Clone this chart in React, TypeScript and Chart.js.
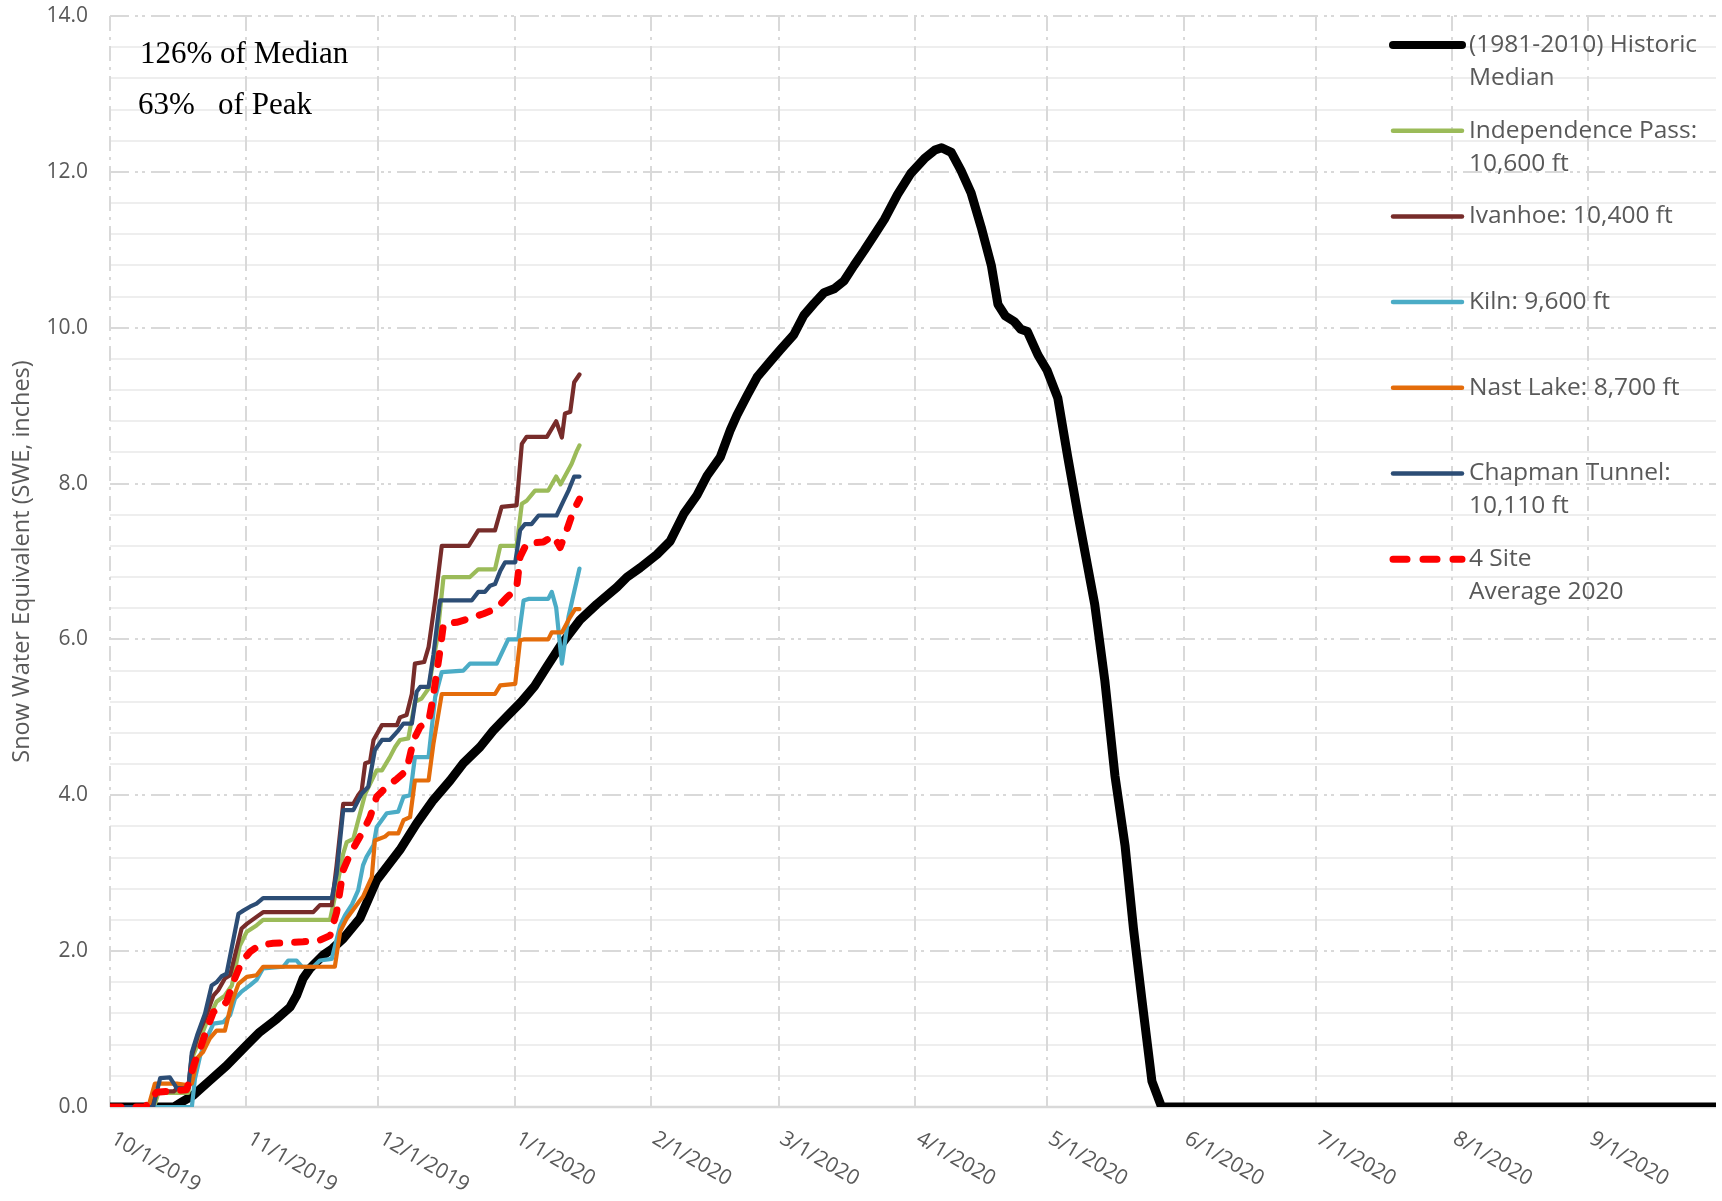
import { useEffect, useRef } from 'react';
import { Chart, registerables } from 'chart.js';

Chart.register(...registerables);

// Day index counted from 10/1/2019
const monthTickDays = [0, 31, 61, 92, 123, 152, 183, 213, 244, 274, 305, 336];
const monthTickLabels = ['10/1/2019', '11/1/2019', '12/1/2019', '1/1/2020', '2/1/2020', '3/1/2020', '4/1/2020', '5/1/2020', '6/1/2020', '7/1/2020', '8/1/2020', '9/1/2020'];

const historicMedian: number[][] = [
  [0, 0], [14.5, 0], [16.5, 0.07], [18.9, 0.15], [22.7, 0.34], [26.5, 0.53], [31, 0.79], [34, 0.96], [37.9, 1.13], [40.9, 1.28],
  [42.4, 1.43], [43.9, 1.65], [45.5, 1.78], [48.5, 1.95], [50.5, 2.03], [53, 2.16], [56.8, 2.42], [60.6, 2.91], [65.9, 3.3], [69.7, 3.64],
  [73.5, 3.94], [77.3, 4.19], [80.3, 4.41], [84.1, 4.62], [87.1, 4.83], [90, 5.0], [93.5, 5.2], [96.5, 5.4], [99.3, 5.65], [102.5, 5.93],
  [106.8, 6.25], [110.6, 6.45], [115.2, 6.67], [117.5, 6.8], [120.5, 6.92], [124.3, 7.09], [127.3, 7.26], [130.4, 7.61], [133.4, 7.85], [135.7, 8.1],
  [138.7, 8.34], [141, 8.69], [142.5, 8.88], [144.8, 9.13], [147.1, 9.37], [150.1, 9.57], [152.4, 9.72], [155.4, 9.91], [157.7, 10.16], [160, 10.31],
  [162.3, 10.45], [164.6, 10.5], [166.8, 10.6], [169.1, 10.8], [171.4, 10.99], [173.7, 11.19], [176, 11.39], [179, 11.71], [182, 11.98], [185.1, 12.17],
  [187.5, 12.28], [189, 12.31], [191.2, 12.25], [193.4, 12.02], [195.7, 11.73], [198, 11.29], [200.3, 10.8], [201.8, 10.3], [203.5, 10.15], [205.5, 10.08],
  [207, 9.98], [208.5, 9.95], [210.9, 9.65], [213, 9.45], [215.4, 9.1], [217.7, 8.33], [220, 7.6], [223.8, 6.45], [226.1, 5.47], [228.4, 4.25],
  [230.7, 3.35], [232.6, 2.29], [234.5, 1.39], [236.8, 0.33], [239, 0], [365, 0],
];

const independencePass: number[][] = [
  [0, 0], [10, 0], [11, 0.18], [17.8, 0.18], [18.9, 0.66], [20.5, 0.88], [22, 1.09], [24.2, 1.35], [26.1, 1.43], [27.7, 1.56],
  [29.5, 2.07], [31.1, 2.25], [33.3, 2.33], [34.8, 2.4], [50, 2.4], [51.5, 2.8], [53, 3.25], [53.8, 3.4], [55.3, 3.44], [58, 4.02],
  [60.6, 4.32], [61.8, 4.32], [63.6, 4.49], [64.8, 4.62], [65.9, 4.71], [67.8, 4.73], [69.3, 5.2], [70.8, 5.24], [72.4, 5.37], [74.3, 5.99],
  [75.8, 6.8], [81.8, 6.8], [83.7, 6.9], [87.5, 6.9], [88.7, 7.2], [92.4, 7.2], [93.6, 7.74], [94.7, 7.78], [96.6, 7.91], [99.6, 7.91],
  [101.4, 8.09], [102.4, 7.99], [104.9, 8.25], [106.1, 8.42], [106.7, 8.49],
];

const ivanhoe: number[][] = [
  [0, 0], [9, 0], [10.5, 0.2], [14.5, 0.2], [15.5, 0.25], [17.8, 0.25], [18.6, 0.66], [20, 0.92], [21.6, 1.13], [23.5, 1.43],
  [24.6, 1.5], [26.1, 1.65], [27.3, 1.69], [29.9, 2.29], [31.1, 2.35], [33.3, 2.44], [34.8, 2.5], [46.2, 2.5], [47.7, 2.59], [50.4, 2.59],
  [51.5, 3.1], [53, 3.89], [55.3, 3.89], [56.4, 4.0], [57.2, 4.06], [58, 4.41], [59.1, 4.43], [59.9, 4.71], [61.8, 4.9], [65.2, 4.9],
  [65.9, 5.0], [67.4, 5.03], [68.6, 5.3], [69.3, 5.69], [71.4, 5.71], [72.4, 5.9], [73.9, 6.5], [75.4, 7.2], [81.5, 7.2], [83.7, 7.4],
  [87.5, 7.4], [89, 7.7], [92.4, 7.72], [93.6, 8.51], [94.7, 8.6], [99.3, 8.6], [101.4, 8.8], [102.7, 8.59], [103.4, 8.9], [104.6, 8.92],
  [105.5, 9.3], [106.7, 9.4],
];

const kiln: number[][] = [
  [0, 0], [18.6, 0], [19.3, 0.36], [20.5, 0.66], [22.3, 0.92], [23.5, 1.07], [25.8, 1.09], [27.3, 1.18], [28.4, 1.39], [29.9, 1.48],
  [31.8, 1.56], [33.3, 1.63], [34.8, 1.78], [39.4, 1.8], [40.5, 1.88], [42.4, 1.88], [43.6, 1.8], [46.2, 1.8], [47.7, 1.88], [50.4, 1.9],
  [52.3, 2.33], [53.4, 2.46], [55, 2.6], [56.4, 2.78], [57.5, 3.1], [58.3, 3.21], [59.9, 3.36], [60.6, 3.59], [62.9, 3.77], [65.5, 3.79],
  [66.7, 3.98], [68.2, 4.0], [69.3, 4.49], [72.4, 4.49], [73.9, 5.26], [75.4, 5.58], [80.3, 5.6], [81.8, 5.69], [87.9, 5.69], [90.5, 6.0],
  [92.8, 6.0], [94, 6.5], [95.1, 6.52], [99.6, 6.52], [100.4, 6.61], [101.4, 6.41], [102.7, 5.69], [104.2, 6.29], [106.7, 6.91],
];

const nastLake: number[][] = [
  [0, 0], [8.7, 0], [10.2, 0.3], [15.2, 0.3], [17.5, 0.28], [18.6, 0.3], [20, 0.64], [21.2, 0.71], [22.7, 0.88], [24.2, 0.98],
  [26.1, 0.98], [27.7, 1.35], [29.2, 1.58], [31.1, 1.67], [33.3, 1.69], [34.8, 1.8], [51.1, 1.8], [52.3, 2.25], [53.8, 2.42], [56.8, 2.65],
  [57.5, 2.7], [59.5, 2.95], [60.2, 3.42], [62.5, 3.47], [63.3, 3.51], [65.5, 3.51], [66.7, 3.68], [68.2, 3.72], [69.3, 4.19], [72.4, 4.19],
  [73.5, 4.66], [75.4, 5.3], [87.5, 5.3], [88.7, 5.41], [92.1, 5.43], [93.2, 5.99], [94, 6.0], [99.6, 6.0], [100.4, 6.09], [102.7, 6.09],
  [104.6, 6.29], [105.7, 6.39], [106.7, 6.39],
];

const chapmanTunnel: number[][] = [
  [0, 0], [9.8, 0], [11.4, 0.37], [13.6, 0.38], [15.2, 0.24], [17.8, 0.24], [18.6, 0.7], [19.8, 0.92], [21.6, 1.2], [23.1, 1.56],
  [24.2, 1.6], [25.4, 1.68], [26.5, 1.71], [29.2, 2.48], [30.3, 2.52], [31.8, 2.57], [33.3, 2.61], [34.8, 2.68], [50.4, 2.68], [51.5, 2.99],
  [53, 3.81], [55.3, 3.81], [57.2, 4.02], [58.7, 4.11], [60.2, 4.58], [61.8, 4.71], [63.6, 4.71], [65.5, 4.83], [66.7, 4.92], [68.6, 4.92],
  [69.7, 5.33], [70.5, 5.39], [72.4, 5.39], [73.5, 5.8], [75, 6.5], [82.2, 6.5], [83.7, 6.61], [85.2, 6.61], [86.4, 6.69], [87.5, 6.71],
  [88.7, 6.88], [89.8, 6.99], [92.1, 6.99], [93.2, 7.4], [94.3, 7.48], [95.8, 7.48], [97.4, 7.59], [101.5, 7.59], [103.1, 7.78], [104.2, 7.91],
  [105.5, 8.09], [106.7, 8.09],
];

const fourSiteAverage: number[][] = [
  [0, 0], [8, 0], [10.6, 0.19], [17.4, 0.22], [19.3, 0.58], [20.5, 0.75], [22, 1.0], [23.5, 1.22], [25, 1.26], [26.5, 1.35],
  [28, 1.6], [29.9, 1.86], [31.8, 1.99], [34.1, 2.08], [37.1, 2.1], [43.9, 2.12], [47.7, 2.14], [50, 2.2], [51.5, 2.5], [53, 3.04],
  [54.6, 3.25], [57.6, 3.55], [59.1, 3.72], [60.6, 3.98], [62.9, 4.11], [65.2, 4.21], [67.4, 4.32], [69, 4.71], [70.5, 4.88], [72.4, 4.94],
  [73.5, 5.28], [75, 5.86], [75.8, 6.2], [78.8, 6.22], [81.8, 6.27], [84.9, 6.33], [87.9, 6.4], [90.2, 6.54], [92.4, 6.65], [93.2, 7.06],
  [94.7, 7.23], [98.5, 7.25], [100.8, 7.33], [102.3, 7.18], [103.8, 7.4], [105.3, 7.65], [106.7, 7.8],
];

const seriesNames = [
  '(1981-2010) Historic Median',
  'Independence Pass: 10,600 ft',
  'Ivanhoe: 10,400 ft',
  'Kiln: 9,600 ft',
  'Nast Lake: 8,700 ft',
  'Chapman Tunnel: 10,110 ft',
  '4 Site Average 2020',
];
const legendLines = [
  ['(1981-2010) Historic', 'Median'],
  ['Independence Pass:', '10,600 ft'],
  ['Ivanhoe: 10,400 ft'],
  ['Kiln: 9,600 ft'],
  ['Nast Lake: 8,700 ft'],
  ['Chapman Tunnel:', '10,110 ft'],
  ['4 Site', 'Average 2020'],
];
const seriesData = [historicMedian, independencePass, ivanhoe, kiln, nastLake, chapmanTunnel, fourSiteAverage];
const seriesColors = ['#000000', '#9bbb59', '#772c2a', '#4bacc6', '#e46c0a', '#2c4d75', '#ff0000'];
const seriesWidths = [9, 4.2, 4.2, 4.2, 4.2, 4.2, 7];
const annotationLines = ['126% of Median', '63%   of Peak'];
const yAxisTitle = 'Snow Water Equivalent (SWE, inches)';

const GRAY_TEXT = '#595959';
const FONT = '"Open Sans", "Noto Sans", sans-serif';

const customPlugin = {
  id: 'customDraw',
  beforeDatasetsDraw(chart: any) {
    const { ctx, chartArea: ca, scales } = chart;
    const xs = scales.x;
    const ys = scales.y;
    ctx.save();
    // minor horizontal gridlines (every 0.4)
    ctx.strokeStyle = '#eeeeee';
    ctx.lineWidth = 2;
    ctx.setLineDash([]);
    for (let i = 1; i < 35; i++) {
      if (i % 5 === 0) continue;
      const y = Math.round(ys.getPixelForValue(i * 0.4));
      ctx.beginPath();
      ctx.moveTo(ca.left, y);
      ctx.lineTo(ca.right, y);
      ctx.stroke();
    }
    // vertical gridlines
    ctx.strokeStyle = '#d9d9d9';
    ctx.lineWidth = 2;
    ctx.setLineDash([15, 6, 3, 6]);
    monthTickDays.forEach((d) => {
      const x = Math.round(xs.getPixelForValue(d));
      ctx.beginPath();
      ctx.moveTo(x, ca.top);
      ctx.lineTo(x, ca.bottom);
      ctx.stroke();
    });
    // major horizontal gridlines
    ctx.setLineDash([19, 6, 3, 4, 3, 6]);
    for (let v = 2; v <= 14; v += 2) {
      const y = Math.round(ys.getPixelForValue(v));
      ctx.beginPath();
      ctx.moveTo(ca.left, y);
      ctx.lineTo(ca.right, y);
      ctx.stroke();
    }
    // zero line
    ctx.setLineDash([]);
    ctx.lineWidth = 2.5;
    const y0 = Math.round(ys.getPixelForValue(0));
    ctx.beginPath();
    ctx.moveTo(ca.left, y0);
    ctx.lineTo(ca.right, y0);
    ctx.stroke();
    ctx.restore();
  },
  afterDraw(chart: any) {
    const { ctx, chartArea: ca, scales } = chart;
    const xs = scales.x;
    ctx.save();
    // x tick labels, rotated clockwise
    ctx.font = `21px ${FONT}`;
    ctx.fillStyle = GRAY_TEXT;
    ctx.textAlign = 'left';
    ctx.textBaseline = 'top';
    monthTickDays.forEach((d, i) => {
      const x = xs.getPixelForValue(d);
      ctx.save();
      ctx.translate(x + 8, ca.bottom + 21);
      ctx.rotate((30 * Math.PI) / 180);
      ctx.fillText(monthTickLabels[i], 0, 0);
      ctx.restore();
    });
    // annotations
    ctx.font = `31px "Liberation Serif", "DejaVu Serif", serif`;
    ctx.fillStyle = '#000000';
    ctx.textBaseline = 'alphabetic';
    ctx.fillText(annotationLines[0], 140, 63);
    ctx.fillText(annotationLines[1], 138, 114);
    // legend
    const lx0 = 1393;
    const lx1 = 1462;
    const tx = 1469;
    const top = 45;
    const step = 85.7;
    const lineGap = 33;
    ctx.font = `24.5px ${FONT}`;
    ctx.textBaseline = 'middle';
    legendLines.forEach((lines, i) => {
      const cy = top + step * i;
      ctx.strokeStyle = seriesColors[i];
      ctx.lineCap = 'round';
      if (i === 6) {
        ctx.lineWidth = 7;
        ctx.setLineDash([14, 16]);
      } else {
        ctx.lineWidth = i === 0 ? 8 : 4.5;
        ctx.setLineDash([]);
      }
      ctx.beginPath();
      ctx.moveTo(lx0, cy);
      ctx.lineTo(lx1, cy);
      ctx.stroke();
      ctx.setLineDash([]);
      ctx.fillStyle = GRAY_TEXT;
      lines.forEach((t, j) => ctx.fillText(t, tx, cy + j * lineGap));
    });
    ctx.restore();
  },
};

export default function App() {
  const canvasRef = useRef<HTMLCanvasElement | null>(null);

  useEffect(() => {
    if (!canvasRef.current) return;
    const datasets = seriesData.map((arr, i) => ({
      label: seriesNames[i],
      data: arr.map(([x, y]) => ({ x, y })),
      borderColor: seriesColors[i],
      backgroundColor: seriesColors[i],
      borderWidth: seriesWidths[i],
      pointRadius: 0,
      tension: 0,
      fill: false,
      borderJoinStyle: 'round' as const,
      borderCapStyle: 'round' as const,
      borderDash: i === 6 ? [11, 15] : [],
      order: 6 - i,
    }));
    const chart = new Chart(canvasRef.current, {
      type: 'line',
      data: { datasets },
      options: {
        animation: false,
        responsive: false,
        devicePixelRatio: 1,
        events: [],
        layout: { padding: { left: 0, right: 6, top: 16, bottom: 0 } },
        plugins: { legend: { display: false }, tooltip: { enabled: false } },
        scales: {
          x: {
            type: 'linear',
            min: 0,
            max: 365,
            grid: { display: false, drawTicks: false },
            border: { display: false },
            ticks: { display: false },
            afterBuildTicks: (s: any) => {
              s.ticks = monthTickDays.map((v) => ({ value: v }));
            },
            afterFit: (s: any) => {
              s.height = 94;
              s.paddingTop = 0;
              s.paddingBottom = 0;
              s.paddingLeft = 0;
              s.paddingRight = 0;
            },
          },
          y: {
            min: 0,
            max: 14,
            grid: { display: false, drawTicks: false },
            border: { display: false },
            ticks: {
              stepSize: 2,
              callback: (v: any) => Number(v).toFixed(1),
              font: { family: FONT, size: 21 },
              color: GRAY_TEXT,
              padding: 22,
            },
            title: {
              display: true,
              text: yAxisTitle,
              font: { family: FONT, size: 23.5 },
              color: GRAY_TEXT,
              padding: { top: 8, bottom: 0 },
            },
            afterFit: (s: any) => {
              s.width = 110;
              s.paddingTop = 0;
              s.paddingBottom = 0;
              s.paddingLeft = 0;
              s.paddingRight = 0;
            },
          },
        },
      },
      plugins: [customPlugin],
    } as any);
    return () => chart.destroy();
  }, []);

  return (
    <div style={{ position: 'fixed', left: 0, top: 0, width: 1722, height: 1201, background: '#ffffff' }}>
      <canvas ref={canvasRef} width={1722} height={1201} style={{ display: 'block' }} />
    </div>
  );
}
